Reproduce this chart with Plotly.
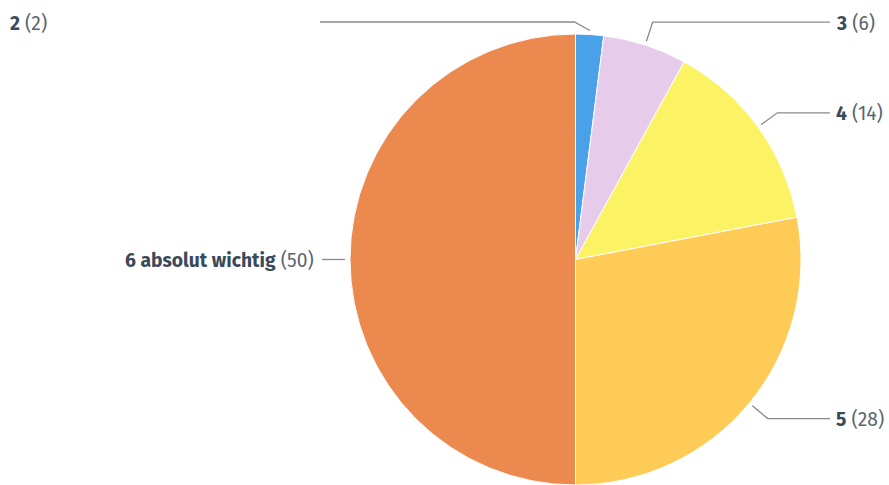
import math
import plotly.graph_objects as go

# ---- data ----
categories = ["2", "3", "4", "5", "6 absolut wichtig"]
counts = [2, 6, 14, 28, 50]
colors = ["#49a1ea", "#e6cbeb", "#fbf264", "#fdcb56", "#ec894f"]

# ---- layout constants (pixels) ----
W, H = 889, 485
CX, CY, R = 575.5, 259.5, 225.5
TXT_COLOR = "#3b4a59"
SUB_COLOR = "#5b6670"
LINE_COLOR = "#8a8a8a"
FONT = "Fira Sans, Lato, Open Sans, sans-serif"
FONT_SIZE = 19.3

def px(x):
    return x / W

def py(y):
    return 1 - y / H

def clamp(v):
    return min(1.0, max(0.0, v))

fig = go.Figure()
fig.add_trace(go.Pie(
    labels=categories,
    values=counts,
    sort=False,
    direction="clockwise",
    rotation=0,
    textinfo="none",
    hoverinfo="label+value",
    marker=dict(colors=colors, line=dict(color="white", width=1)),
    domain=dict(x=[clamp(px(CX - R)), clamp(px(CX + R))],
                y=[clamp(py(CY + R)), clamp(py(CY - R))]),
    showlegend=False,
))

total = sum(counts)
shapes = []
annotations = []
cum = 0
for i, (cat, v) in enumerate(zip(categories, counts)):
    mid = (cum + v / 2) / total * 2 * math.pi
    cum += v
    sx, sy = CX + (R + 4) * math.sin(mid), CY - (R + 4) * math.cos(mid)
    ex, ey = CX + (R + 24) * math.sin(mid), CY - (R + 24) * math.cos(mid)
    right = math.sin(mid) > 0.05
    if i == 0:
        ex, ey = CX - 1, CY - 237.5
        hx = 320
        tx, anchor = 8, "left"
    elif right:
        hx = 830
        tx, anchor = 834, "left"
    else:
        hx = 322
        tx, anchor = 316, "right"
    if abs(math.sin(mid)) > 0.99:
        ey = CY
        path = f"M{px(CX - R - 5)},{py(CY)} L{px(hx)},{py(CY)}"
    else:
        path = f"M{px(sx)},{py(sy)} L{px(ex)},{py(ey)} L{px(hx)},{py(ey)}"
    shapes.append(dict(type="path", xref="paper", yref="paper", path=path,
                       line=dict(color=LINE_COLOR, width=1.3)))
    annotations.append(dict(
        xref="paper", yref="paper", x=px(tx), y=py(ey + 1),
        xanchor=anchor, yanchor="middle", showarrow=False,
        text=f"<b>{cat}</b> <span style='color:{SUB_COLOR}'>({v})</span>",
        font=dict(family=FONT, size=FONT_SIZE, color=TXT_COLOR),
    ))

fig.update_layout(
    width=W, height=H,
    margin=dict(l=0, r=0, t=0, b=0),
    paper_bgcolor="white", plot_bgcolor="white",
    shapes=shapes, annotations=annotations,
)
fig.write_html(
    "out.html",
    config={"displayModeBar": False},
    post_script="document.body.style.margin='0';document.body.style.overflow='hidden';",
)
